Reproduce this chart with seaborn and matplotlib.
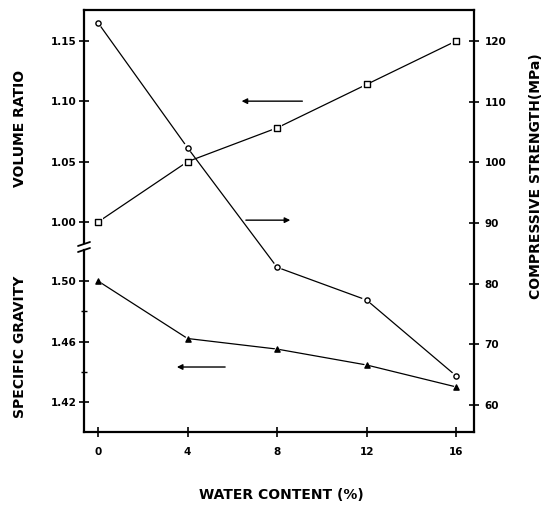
import matplotlib
matplotlib.use("Agg")
import matplotlib.pyplot as plt
from matplotlib.lines import Line2D
import seaborn as sns
import pandas as pd

# ---- data ----
water_content = [0, 4, 8, 12, 16]
volume_ratio = [1.000, 1.050, 1.078, 1.114, 1.150]
specific_gravity = [1.500, 1.462, 1.455, 1.4445, 1.430]
compressive_strength = [123.0, 102.4, 82.7, 77.3, 64.8]

x_ticks = [0, 4, 8, 12, 16]
vr_ticks = [1.00, 1.05, 1.10, 1.15]
sg_ticks = [1.42, 1.46, 1.50]
sg_minor_ticks = [1.44, 1.48]
cs_ticks = [60, 70, 80, 90, 100, 110, 120]

vr_label = "VOLUME RATIO"
sg_label = "SPECIFIC GRAVITY"
cs_label = "COMPRESSIVE STRENGTH(MPa)"
x_label = "WATER CONTENT (%)"

sns.set_theme(style="white")
plt.rcParams['font.family'] = ['DejaVu Sans']
plt.rcParams['font.weight'] = 'bold'

W, H = 545, 505
fig = plt.figure(figsize=(W / 100, H / 100), dpi=100)
L, R = 84, 474


def rect(top, bottom):
    return [L / W, 1 - bottom / H, (R - L) / W, (bottom - top) / H]


ax_vr = fig.add_axes(rect(10, 243))
ax_sg = fig.add_axes(rect(250, 432))
ax_cs = fig.add_axes(rect(10, 432))
ax_cs.patch.set_alpha(0)

XLIM = (-0.626, 16.80)
for ax in (ax_vr, ax_sg, ax_cs):
    ax.set_xlim(*XLIM)
ax_vr.set_ylim(0.9826, 1.1757)
ax_sg.set_ylim(1.4002, 1.5205)
ax_cs.set_ylim(55.55, 125.1)


def draw(ax, y, marker, filled, size):
    df = pd.DataFrame({'x': water_content, 'y': y})
    sns.lineplot(data=df, x='x', y='y', ax=ax, color='black', lw=0.9,
                 sort=False, zorder=2)
    sns.scatterplot(data=df, x='x', y='y', ax=ax, marker=marker, s=size * 3.2,
                    color='white', edgecolor='none', zorder=3, clip_on=False)
    sns.scatterplot(data=df, x='x', y='y', ax=ax, marker=marker, s=size,
                    color='black' if filled else 'white', edgecolor='black',
                    linewidth=1.0, zorder=4, clip_on=False)


draw(ax_vr, volume_ratio, 's', False, 14)
draw(ax_sg, specific_gravity, '^', True, 14)
draw(ax_cs, compressive_strength, 'o', False, 14)

spine_w = 1.6
tick_kw = dict(direction='inout', length=7, width=1.2, colors='black',
               labelsize=7.5)

# upper-left axis (volume ratio)
for s in ('right', 'bottom'):
    ax_vr.spines[s].set_visible(False)
for s in ('top', 'left'):
    ax_vr.spines[s].set_linewidth(spine_w)
    ax_vr.spines[s].set_color('black')
ax_vr.set_xticks([])
ax_vr.set_yticks(vr_ticks)
ax_vr.set_yticklabels([f"{v:.2f}" for v in vr_ticks])
ax_vr.tick_params(axis='y', left=True, pad=2, **tick_kw)
ax_vr.set_xlabel('')
ax_vr.set_ylabel('')

# lower-left axis (specific gravity)
for s in ('right', 'top'):
    ax_sg.spines[s].set_visible(False)
for s in ('left', 'bottom'):
    ax_sg.spines[s].set_linewidth(spine_w)
    ax_sg.spines[s].set_color('black')
ax_sg.set_yticks(sg_ticks)
ax_sg.set_yticklabels([f"{v:.2f}".replace('.', ',') if False else f"{v:.2f}" for v in sg_ticks])
ax_sg.set_yticks(sg_minor_ticks, minor=True)
ax_sg.tick_params(axis='y', which='major', left=True, pad=2, **tick_kw)
ax_sg.tick_params(axis='y', which='minor', left=True, direction='inout',
                  length=4, width=1.0, colors='black')
ax_sg.set_xticks(x_ticks)
ax_sg.set_xticklabels([str(v) for v in x_ticks])
ax_sg.tick_params(axis='x', bottom=True, pad=7, **tick_kw)
ax_sg.set_xlabel('')
ax_sg.set_ylabel('')

# right axis (compressive strength)
for s in ('left', 'top', 'bottom'):
    ax_cs.spines[s].set_visible(False)
ax_cs.spines['right'].set_linewidth(spine_w)
ax_cs.spines['right'].set_color('black')
ax_cs.set_xticks([])
ax_cs.yaxis.tick_right()
ax_cs.set_yticks(cs_ticks)
ax_cs.set_yticklabels([str(v) for v in cs_ticks])
ax_cs.tick_params(axis='y', right=True, left=False, pad=4, **tick_kw)
ax_cs.set_xlabel('')
ax_cs.set_ylabel('')

# arrows indicating which axis each curve belongs to
arrow_kw = dict(arrowstyle='-|>', color='black', lw=1.0, mutation_scale=8)
ax_cs.annotate('', xy=(0.397, 0.784), xytext=(0.567, 0.784),
               xycoords='axes fraction', arrowprops=arrow_kw)
ax_cs.annotate('', xy=(0.536, 0.502), xytext=(0.408, 0.502),
               xycoords='axes fraction', arrowprops=arrow_kw)
ax_cs.annotate('', xy=(0.231, 0.154), xytext=(0.369, 0.154),
               xycoords='axes fraction', arrowprops=arrow_kw)

# axis break marks on the left spine


def px(xp, yp):
    return xp / W, 1 - yp / H


for yb in (244, 250):
    (x0, y0), (x1, y1) = px(78, yb + 2), px(90, yb - 2)
    fig.add_artist(Line2D([x0, x1], [y0, y1], transform=fig.transFigure,
                          color='black', lw=1.3))

# axis titles
lab_kw = dict(fontsize=10, fontweight='bold', color='black',
              ha='center', va='center')
fig.text(*px(20, 128), vr_label, rotation=90, **lab_kw)
fig.text(*px(20, 347), sg_label, rotation=90, **lab_kw)
fig.text(*px(536, 176), cs_label, rotation=90, **lab_kw)
fig.text(*px(281, 495), x_label, **lab_kw)

fig.savefig('out.png', dpi=100)
